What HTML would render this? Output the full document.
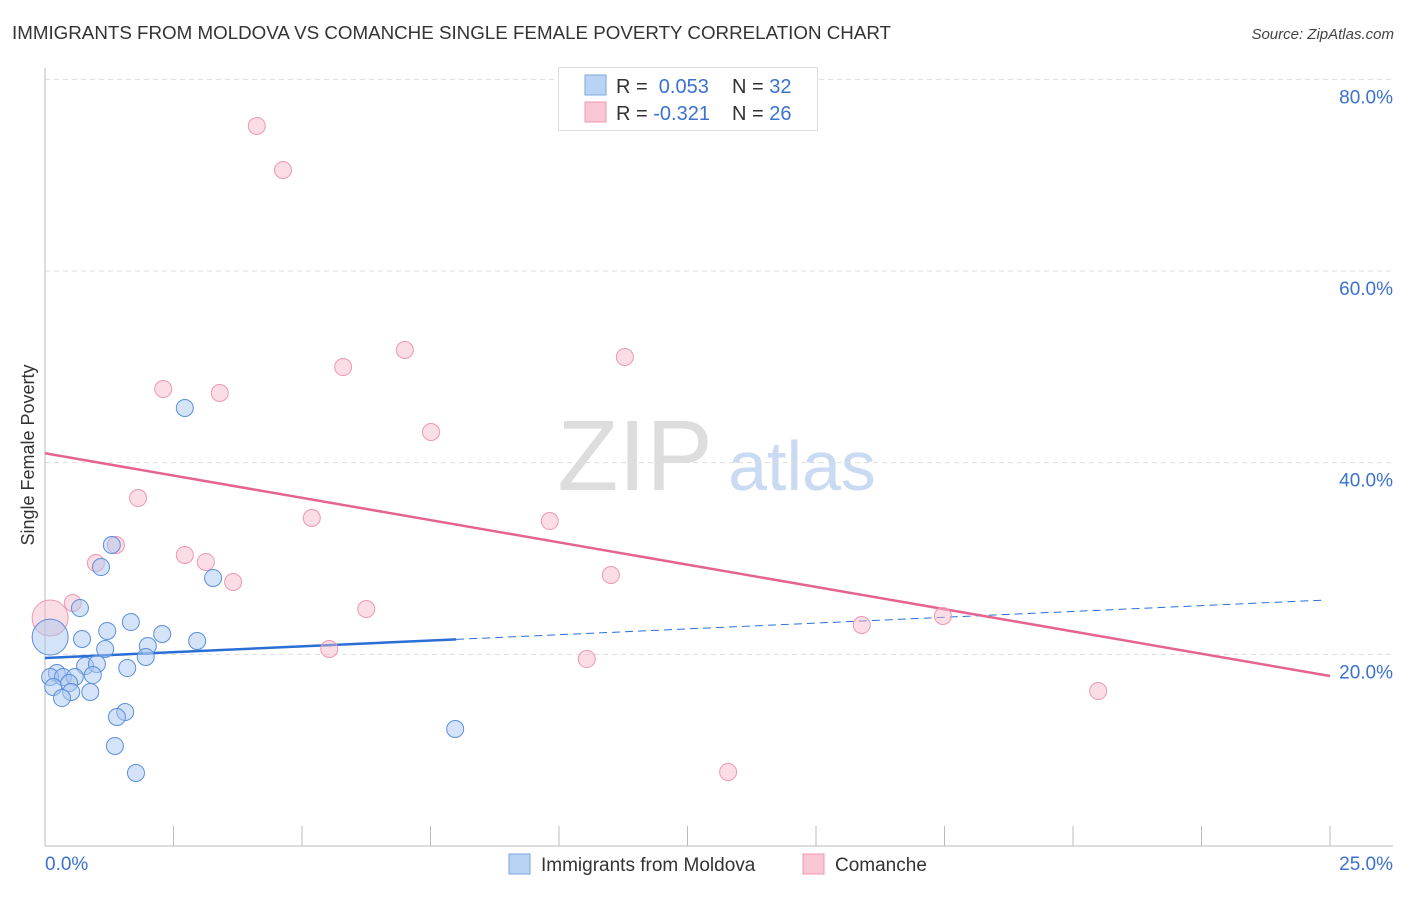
<!DOCTYPE html>
<html><head><meta charset="utf-8"><style>
body{margin:0;background:#fff;font-family:"Liberation Sans",sans-serif;}
svg text{font-family:"Liberation Sans",sans-serif;}
</style></head><body>
<svg id="chart" width="1406" height="892">
<text x="12" y="39" font-size="18" fill="#333" textLength="879" lengthAdjust="spacingAndGlyphs">IMMIGRANTS FROM MOLDOVA VS COMANCHE SINGLE FEMALE POVERTY CORRELATION CHART</text>
<text x="1394" y="39" font-size="15" font-style="italic" fill="#444" text-anchor="end">Source: ZipAtlas.com</text>
<text x="34" y="455" font-size="18" fill="#333" text-anchor="middle" transform="rotate(-90 34 455)">Single Female Poverty</text>
<g>
<text x="635" y="490" font-size="100" font-family="Liberation Serif" fill="#ddd" text-anchor="middle">ZIP</text>
<text x="802" y="490" font-size="70" fill="#c9daf2" text-anchor="middle">atlas</text>
</g>
<g id="grid"></g><g id="axes"></g><g id="lines"></g><g id="points"></g>
<g>
<rect x="558.5" y="67.5" width="259" height="63" fill="#fff" stroke="#ddd"/>
<rect x="585" y="75" width="21" height="20" fill="#b9d3f5" stroke="#7ea6e0"/>
<rect x="585" y="102" width="21" height="20" fill="#f9c6d4" stroke="#ee98b0"/>
<text x="616" y="93" font-size="20" fill="#333">R = <tspan fill="#3b72d0">&#160;0.053</tspan></text>
<text x="732" y="93" font-size="20" fill="#333">N = <tspan fill="#3b72d0">32</tspan></text>
<text x="616" y="120" font-size="20" fill="#333">R = <tspan fill="#3b72d0">-0.321</tspan></text>
<text x="732" y="120" font-size="20" fill="#333">N = <tspan fill="#3b72d0">26</tspan></text>
</g>
<g>
<rect x="509" y="854" width="21" height="20" fill="#b9d3f5" stroke="#7ea6e0"/>
<text x="541" y="871" font-size="19" fill="#333">Immigrants from Moldova</text>
<rect x="803" y="854" width="21" height="20" fill="#f9c6d4" stroke="#ee98b0"/>
<text x="835" y="871" font-size="19" fill="#333">Comanche</text>
</g>
</svg>
<script>
const blueX=[1.30,1.09,0.68,0.10,0.72,1.21,1.67,1.17,2.00,2.28,2.96,1.96,0.78,1.01,0.93,1.60,0.23,0.10,0.35,0.58,0.16,0.47,0.51,0.33,0.88,1.56,1.40,1.36,1.77,2.72,3.27,7.98];
const blueY=[31.41,29.11,24.83,21.80,21.60,22.44,23.37,20.56,20.87,22.12,21.39,19.72,18.78,18.99,17.84,18.57,18.05,17.64,17.64,17.64,16.59,17.01,16.07,15.44,16.07,13.98,13.46,10.44,7.62,45.71,27.97,12.21];
const pinkX=[1.38,0.99,0.54,0.10,2.72,3.13,3.66,4.12,4.63,2.30,3.40,1.81,5.80,7.00,7.51,11.28,5.19,9.82,6.25,5.53,11.01,10.54,15.89,17.47,20.49,13.29];
const pinkY=[31.41,29.53,25.36,23.79,30.37,29.64,27.55,75.13,70.54,47.69,47.27,36.31,49.98,51.76,43.20,51.03,34.23,33.91,24.73,20.56,28.28,19.51,23.06,24.00,16.17,7.72];
const yTicks=[20,40,60,80];
const xTickLabels=["0.0%","25.0%"];
const blueTrend=[19.62,21.5,25.67];
const pinkTrend=[40.98,17.74];
const NS="http://www.w3.org/2000/svg";
const xs=v=>45+v*51.4;
const ys=v=>846-v*9.583;
function mk(tag,attrs,parent){const e=document.createElementNS(NS,tag);for(const k in attrs)e.setAttribute(k,attrs[k]);document.getElementById(parent).appendChild(e);return e;}
yTicks.forEach(t=>{
 const l=mk('line',{x1:45,x2:1393,y1:ys(t),y2:ys(t),stroke:'#ddd','stroke-dasharray':'5,4'},'grid');
 
 
 const tx=mk('text',{x:1393,y:ys(t)+24,'font-size':19,fill:'#3b72d0','text-anchor':'end'},'grid');
 tx.textContent=t.toFixed(1)+'%';
 
 
});
const ax=mk('line',{x1:45,x2:1393,y1:846,y2:846,stroke:'#bbb'},'axes');


const ay=mk('line',{x1:45,x2:45,y1:68,y2:846,stroke:'#bbb'},'axes');


for(let i=0;i<=10;i++){
 const t=mk('line',{x1:xs(i*2.5),x2:xs(i*2.5),y1:826,y2:846,stroke:'#bbb'},'axes');
 
 
}
[[0,'start',45],[25,'end',1393]].forEach((d,i)=>{
 const tx=mk('text',{x:d[2],y:870,'font-size':19,fill:'#3b72d0','text-anchor':d[1]},'axes');
 tx.textContent=xTickLabels[i];
 
 
});
let bl=mk('line',{x1:xs(0),y1:ys(blueTrend[0]),x2:xs(8),y2:ys(blueTrend[0]+(blueTrend[2]-blueTrend[0])*8/24.92),stroke:'#2a6fd6','stroke-width':2.5},'lines');


let bd=mk('line',{x1:xs(8),y1:ys(blueTrend[0]+(blueTrend[2]-blueTrend[0])*8/24.92),x2:xs(24.92),y2:ys(blueTrend[2]),stroke:'#2a6fd6','stroke-width':1,'stroke-dasharray':'8,5'},'lines');


let pl=mk('line',{x1:xs(0),y1:ys(pinkTrend[0]),x2:xs(25),y2:ys(pinkTrend[1]),stroke:'#e5648e','stroke-width':2.5},'lines');


pinkX.forEach((x,i)=>{
 const c=mk('circle',{cx:xs(x),cy:ys(pinkY[i]),r:i===3?18:8.5,fill:'rgba(246,180,200,0.45)',stroke:'#ee98b0','stroke-width':1},'points');
 
 
});
blueX.forEach((x,i)=>{
 const c=mk('circle',{cx:xs(x),cy:ys(blueY[i]),r:i===3?18:8.5,fill:'rgba(170,200,240,0.5)',stroke:'#5b8fdc','stroke-width':1},'points');
 
 
});
</script>
</body></html>
